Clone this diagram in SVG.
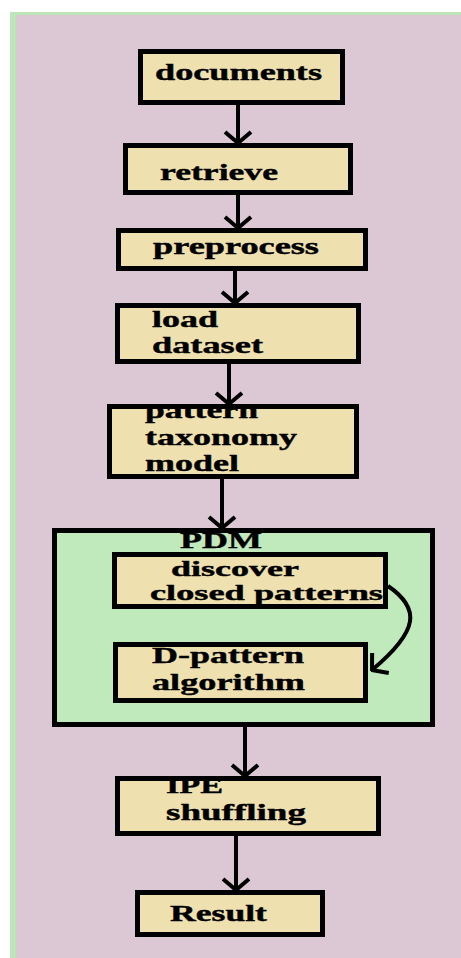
<svg xmlns="http://www.w3.org/2000/svg" width="461" height="958" viewBox="0 0 461 958">
  <style>
    .box { fill: #eee1af; stroke: #000; stroke-width: 5; }
    .group { fill: #c0e9bc; stroke: #000; stroke-width: 5; }
    .lbl { font-family: "Liberation Serif", "Times New Roman", serif; font-weight: bold; font-size: 23px; fill: #000; stroke: #000; stroke-width: 0.4; }
    .sm { font-size: 21px; }
    .edge { fill: none; stroke: #000; stroke-width: 4; }
  </style>
  <defs>
    <marker id="head" viewBox="-14 -15 16 30" refX="0" refY="0" markerWidth="16" markerHeight="30" markerUnits="userSpaceOnUse" orient="auto">
      <path d="M-11,-13 L0,0 L-11,13" fill="none" stroke="#000" stroke-width="4"/>
    </marker>
  </defs>

  <!-- page background -->
  <rect x="0" y="0" width="461" height="958" fill="#ffffff"/>
  <rect x="10" y="12" width="451" height="946" fill="#bde6b8"/>
  <rect x="16" y="15" width="445" height="943" fill="#dcc8d4"/>

  <g id="documents">
    <rect class="box" x="140.5" y="51.5" width="202" height="51"/>
    <text class="lbl" x="155" y="80" textLength="167" lengthAdjust="spacingAndGlyphs">documents</text>
  </g>

  <g id="retrieve">
    <rect class="box" x="125.5" y="145.5" width="225" height="47"/>
    <text class="lbl" x="160" y="180" textLength="118" lengthAdjust="spacingAndGlyphs">retrieve</text>
  </g>

  <g id="preprocess">
    <rect class="box" x="118.5" y="230.5" width="247" height="38"/>
    <text class="lbl" x="153" y="254" textLength="166" lengthAdjust="spacingAndGlyphs">preprocess</text>
  </g>

  <g id="load-dataset">
    <rect class="box" x="117.5" y="305.5" width="241" height="56"/>
    <text class="lbl" x="152" y="327" textLength="66" lengthAdjust="spacingAndGlyphs">load</text>
    <text class="lbl" x="152" y="353" textLength="111" lengthAdjust="spacingAndGlyphs">dataset</text>
  </g>

  <g id="pattern-taxonomy-model">
    <rect class="box" x="109.5" y="406.5" width="247" height="70"/>
    <text class="lbl" x="145" y="418" textLength="113" lengthAdjust="spacingAndGlyphs">pattern</text>
    <text class="lbl" x="145" y="445" textLength="152" lengthAdjust="spacingAndGlyphs">taxonomy</text>
    <text class="lbl" x="145" y="471" textLength="94" lengthAdjust="spacingAndGlyphs">model</text>
  </g>

  <g id="pdm">
    <rect class="group" x="54.5" y="530.5" width="378" height="194"/>
    <text class="lbl" x="180" y="548" textLength="82" lengthAdjust="spacingAndGlyphs">PDM</text>
  </g>

  <g id="discover-closed-patterns">
    <rect class="box" x="114.5" y="554.5" width="271" height="52"/>
    <text class="lbl sm" x="171" y="575.5" textLength="128" lengthAdjust="spacingAndGlyphs">discover</text>
    <text class="lbl sm" x="150" y="599.5" textLength="233" lengthAdjust="spacingAndGlyphs">closed patterns</text>
  </g>

  <g id="d-pattern-algorithm">
    <rect class="box" x="115.5" y="644.5" width="250" height="56"/>
    <text class="lbl" x="152" y="663" textLength="152" lengthAdjust="spacingAndGlyphs">D-pattern</text>
    <text class="lbl" x="152" y="690" textLength="153" lengthAdjust="spacingAndGlyphs">algorithm</text>
  </g>

  <g id="ipe-shuffling">
    <rect class="box" x="117.5" y="778.5" width="261" height="55"/>
    <text class="lbl" x="166" y="793" textLength="57" lengthAdjust="spacingAndGlyphs">IPE</text>
    <text class="lbl" x="166" y="820" textLength="140" lengthAdjust="spacingAndGlyphs">shuffling</text>
  </g>

  <g id="result">
    <rect class="box" x="137.5" y="892.5" width="185" height="42"/>
    <text class="lbl" x="170" y="921" textLength="97" lengthAdjust="spacingAndGlyphs">Result</text>
  </g>

  <g id="connectors">
    <line class="edge" x1="238" y1="105" x2="238" y2="143" marker-end="url(#head)"/>
    <line class="edge" x1="238" y1="195" x2="238" y2="228" marker-end="url(#head)"/>
    <line class="edge" x1="235" y1="271" x2="235" y2="303" marker-end="url(#head)"/>
    <line class="edge" x1="229" y1="364" x2="229" y2="404" marker-end="url(#head)"/>
    <line class="edge" x1="222" y1="479" x2="222" y2="528" marker-end="url(#head)"/>
    <path class="edge" d="M388,586 C420,608 420,630 372,670" marker-end="url(#head)"/>
    <line class="edge" x1="245" y1="727" x2="245" y2="776" marker-end="url(#head)"/>
    <line class="edge" x1="236" y1="836" x2="236" y2="890" marker-end="url(#head)"/>
  </g>
</svg>
